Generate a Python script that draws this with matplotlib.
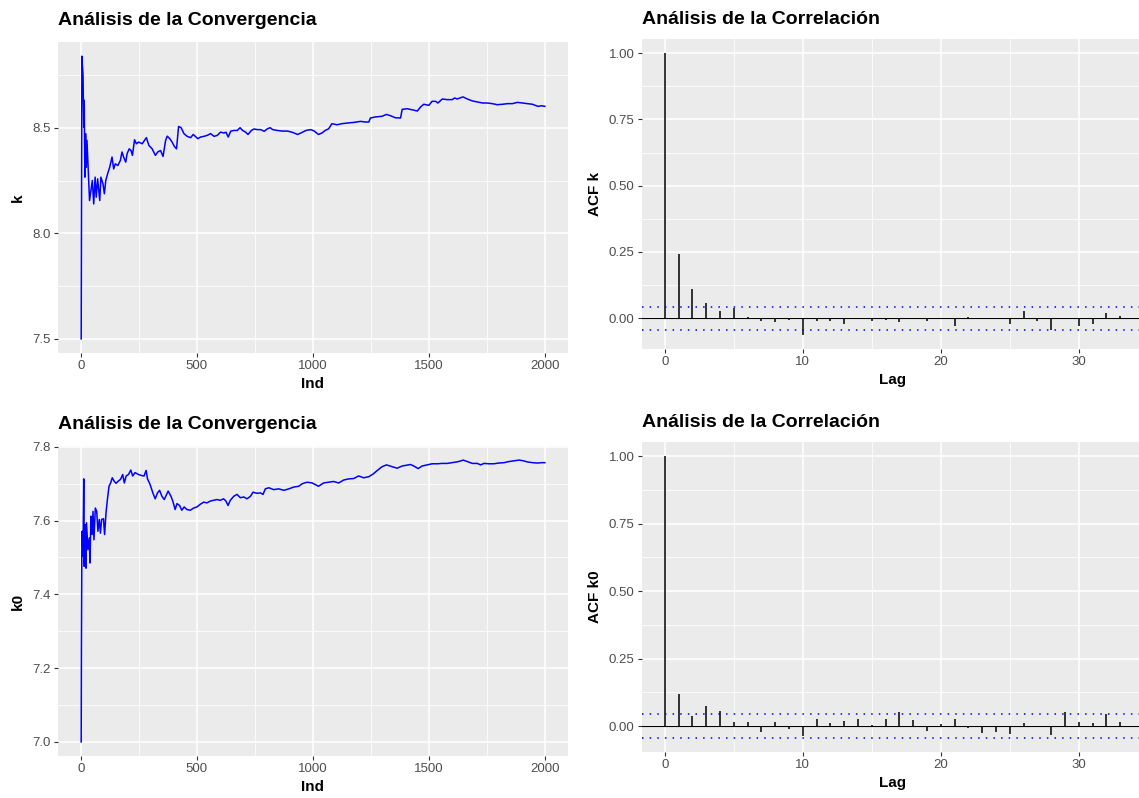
import numpy as np
import matplotlib
matplotlib.use("Agg")
import matplotlib.pyplot as plt
from matplotlib.ticker import MultipleLocator, FormatStrFormatter

# running mean of k
ind_k = [1, 2, 4, 9, 12, 14, 17, 20, 23, 26, 33, 37, 43, 49, 55, 61, 66, 72, 81, 86,
         95, 101, 107, 115, 124, 134, 141, 148, 159, 170, 177, 184, 193, 199, 208, 216,
         222, 231, 239, 249, 264, 274, 282, 293, 307, 321, 331, 343, 354, 365, 372, 383,
         393, 403, 412, 421, 432, 444, 458, 473, 484, 493, 504, 516, 530, 545, 559, 574,
         588, 602, 617, 625, 635, 646, 660, 674, 686, 697, 710, 720, 735, 746, 761, 775,
         790, 804, 816, 827, 847, 869, 891, 912, 934, 948, 970, 991, 1006, 1024, 1039,
         1053, 1068, 1082, 1104, 1125, 1147, 1176, 1205, 1226, 1241, 1248, 1269, 1298,
         1317, 1334, 1356, 1378, 1385, 1406, 1428, 1450, 1464, 1478, 1500, 1514, 1529,
         1539, 1558, 1579, 1601, 1611, 1622, 1647, 1666, 1687, 1709, 1731, 1752, 1774,
         1795, 1817, 1839, 1860, 1882, 1903, 1925, 1947, 1971, 1986, 2000]
conv_k = [7.50, 8.00, 8.839, 8.748, 8.503, 8.630, 8.266, 8.472, 8.313, 8.440, 8.266,
          8.155, 8.203, 8.250, 8.139, 8.266, 8.171, 8.258, 8.155, 8.266, 8.234, 8.187,
          8.250, 8.282, 8.313, 8.361, 8.305, 8.329, 8.321, 8.345, 8.385, 8.361, 8.337,
          8.377, 8.400, 8.392, 8.369, 8.443, 8.424, 8.432, 8.424, 8.440, 8.453, 8.416,
          8.400, 8.369, 8.385, 8.392, 8.364, 8.440, 8.460, 8.448, 8.432, 8.411, 8.400,
          8.506, 8.500, 8.472, 8.459, 8.453, 8.468, 8.459, 8.448, 8.456, 8.459, 8.464,
          8.472, 8.459, 8.464, 8.479, 8.475, 8.479, 8.456, 8.484, 8.487, 8.487, 8.500,
          8.487, 8.479, 8.468, 8.487, 8.494, 8.491, 8.491, 8.483, 8.495, 8.500, 8.491,
          8.487, 8.484, 8.484, 8.478, 8.468, 8.475, 8.487, 8.491, 8.484, 8.468, 8.475,
          8.487, 8.495, 8.519, 8.514, 8.519, 8.522, 8.525, 8.530, 8.527, 8.527, 8.546,
          8.551, 8.554, 8.563, 8.557, 8.547, 8.546, 8.587, 8.590, 8.585, 8.579, 8.598,
          8.611, 8.606, 8.625, 8.625, 8.617, 8.636, 8.633, 8.633, 8.641, 8.636, 8.646,
          8.636, 8.627, 8.622, 8.617, 8.617, 8.614, 8.609, 8.611, 8.614, 8.614, 8.620,
          8.617, 8.614, 8.611, 8.601, 8.604, 8.601]

# running mean of k0
ind_k0 = [1, 2, 4, 6, 9, 12, 14, 19, 22, 24, 30, 36, 39, 43, 48, 52, 56, 62, 68, 73,
          79, 84, 89, 97, 102, 108, 114, 121, 128, 135, 143, 151, 161, 171, 180, 187,
          195, 205, 215, 223, 233, 248, 262, 272, 281, 287, 298, 310, 320, 330, 339,
          349, 359, 367, 376, 388, 396, 406, 414, 425, 435, 445, 457, 471, 486, 500,
          514, 529, 543, 558, 572, 586, 601, 615, 625, 634, 644, 659, 673, 687, 702,
          716, 731, 742, 759, 774, 785, 795, 810, 831, 853, 875, 896, 918, 939, 954,
          975, 997, 1024, 1046, 1068, 1089, 1111, 1133, 1154, 1176, 1197, 1219, 1241,
          1259, 1280, 1298, 1317, 1337, 1363, 1385, 1403, 1421, 1435, 1454, 1471, 1493,
          1514, 1536, 1558, 1579, 1601, 1620, 1634, 1648, 1666, 1687, 1709, 1723, 1738,
          1759, 1780, 1802, 1824, 1845, 1867, 1889, 1908, 1925, 1947, 1969, 1986, 2000]
conv_k0 = [7.00, 7.25, 7.57, 7.571, 7.503, 7.713, 7.476, 7.589, 7.471, 7.594, 7.521,
           7.553, 7.485, 7.612, 7.562, 7.625, 7.548, 7.634, 7.625, 7.571, 7.603, 7.566,
           7.603, 7.605, 7.562, 7.621, 7.657, 7.693, 7.702, 7.716, 7.707, 7.701, 7.707,
           7.712, 7.725, 7.702, 7.721, 7.725, 7.737, 7.721, 7.730, 7.725, 7.722, 7.721,
           7.736, 7.713, 7.698, 7.675, 7.659, 7.675, 7.682, 7.666, 7.657, 7.668, 7.680,
           7.666, 7.653, 7.630, 7.646, 7.641, 7.628, 7.637, 7.630, 7.628, 7.634, 7.637,
           7.644, 7.650, 7.648, 7.653, 7.655, 7.657, 7.655, 7.659, 7.653, 7.641, 7.655,
           7.666, 7.671, 7.662, 7.664, 7.659, 7.666, 7.677, 7.674, 7.675, 7.671, 7.686,
           7.689, 7.684, 7.686, 7.682, 7.686, 7.691, 7.693, 7.700, 7.704, 7.702, 7.693,
           7.702, 7.704, 7.706, 7.702, 7.710, 7.713, 7.714, 7.721, 7.716, 7.719, 7.726,
           7.737, 7.746, 7.751, 7.747, 7.742, 7.748, 7.750, 7.752, 7.748, 7.741, 7.748,
           7.751, 7.754, 7.754, 7.755, 7.755, 7.757, 7.759, 7.761, 7.764, 7.760, 7.755,
           7.755, 7.751, 7.755, 7.754, 7.754, 7.756, 7.757, 7.760, 7.762, 7.764, 7.762,
           7.759, 7.757, 7.756, 7.757, 7.757]

lags = list(range(34))
acf_k = [1.0, 0.243, 0.111, 0.056, 0.026, 0.039, 0.006, -0.010, -0.016, -0.006,
         -0.063, -0.010, -0.010, -0.020, 0.001, -0.010, -0.008, -0.016, 0.0, -0.012,
         0.0, -0.029, 0.004, 0.002, 0.0, -0.023, 0.026, -0.012, -0.044, 0.0,
         -0.029, -0.021, 0.019, 0.008]
acf_k0 = [1.0, 0.117, 0.036, 0.073, 0.056, 0.014, 0.015, -0.022, 0.014, -0.009,
          -0.035, 0.025, 0.012, 0.020, 0.025, 0.005, 0.025, 0.053, 0.023, -0.019,
          0.009, 0.025, -0.006, -0.027, -0.022, -0.030, 0.011, 0.0, -0.032, 0.052,
          0.014, 0.011, 0.046, 0.014]
n_iter = 2000
ci = 1.96 / np.sqrt(n_iter)

W, H = 1139, 798
plt.rcParams["font.family"] = "Liberation Sans"

fig = plt.figure(figsize=(W / 100, H / 100), dpi=100)


def panel(l, t, r, b):
    ax = fig.add_axes([l / W, 1 - b / H, (r - l) / W, (b - t) / H])
    ax.set_facecolor("#EBEBEB")
    for s in ax.spines.values():
        s.set_visible(False)
    ax.set_axisbelow(True)
    ax.grid(which="major", color="white", linewidth=1.1)
    ax.grid(which="minor", color="white", linewidth=0.55)
    ax.tick_params(which="major", length=2.8, width=0.8, color="#333333",
                   labelcolor="#4D4D4D", labelsize=9.5, pad=2.5)
    ax.tick_params(which="minor", length=0)
    return ax


def conv_panel(box, x, y, ylab, ymaj):
    ax = panel(*box)
    ax.plot(x, y, color="blue", linewidth=1.1)
    ax.margins(x=0.05, y=0.05)
    ax.xaxis.set_major_locator(MultipleLocator(500))
    ax.xaxis.set_minor_locator(MultipleLocator(250))
    ax.yaxis.set_major_locator(MultipleLocator(ymaj))
    ax.yaxis.set_minor_locator(MultipleLocator(ymaj / 2))
    ax.yaxis.set_major_formatter(FormatStrFormatter("%.1f"))
    ax.set_xlabel("Ind", fontsize=11, fontweight="bold", labelpad=3)
    ax.set_ylabel(ylab, fontsize=11, fontweight="bold", labelpad=5)
    ax.set_title("Análisis de la Convergencia", loc="left", fontsize=14,
                 fontweight="bold", pad=12.5)
    return ax


def acf_panel(box, vals, ylab):
    ax = panel(*box)
    ax.vlines(lags, 0, vals, color="black", linewidth=1.1)
    ax.axhline(0, color="black", linewidth=0.8)
    ax.axhline(ci, color="blue", linewidth=1.1, linestyle=(0, (1, 4)))
    ax.axhline(-ci, color="blue", linewidth=1.1, linestyle=(0, (1, 4)))
    lo = min(min(vals), -ci)
    hi = max(max(vals), ci)
    pad = (hi - lo) * 0.05
    ax.set_ylim(lo - pad, hi + pad)
    ax.set_xlim(-0.05 * lags[-1], lags[-1] * 1.05)
    ax.xaxis.set_major_locator(MultipleLocator(10))
    ax.xaxis.set_minor_locator(MultipleLocator(5))
    ax.yaxis.set_major_locator(MultipleLocator(0.25))
    ax.yaxis.set_minor_locator(MultipleLocator(0.125))
    ax.yaxis.set_major_formatter(FormatStrFormatter("%.2f"))
    ax.set_xlabel("Lag", fontsize=11, fontweight="bold", labelpad=3)
    ax.set_ylabel(ylab, fontsize=11, fontweight="bold", labelpad=5)
    ax.set_title("Análisis de la Correlación", loc="left", fontsize=14,
                 fontweight="bold", pad=11)
    return ax


conv_panel((58, 42, 568, 353), ind_k, conv_k, "k", 0.5)
acf_panel((642, 39, 1143, 349), acf_k, "ACF k")
conv_panel((58, 446, 568, 756), ind_k0, conv_k0, "k0", 0.2)
acf_panel((642, 442, 1143, 752), acf_k0, "ACF k0")

fig.savefig("out.png", dpi=100)
